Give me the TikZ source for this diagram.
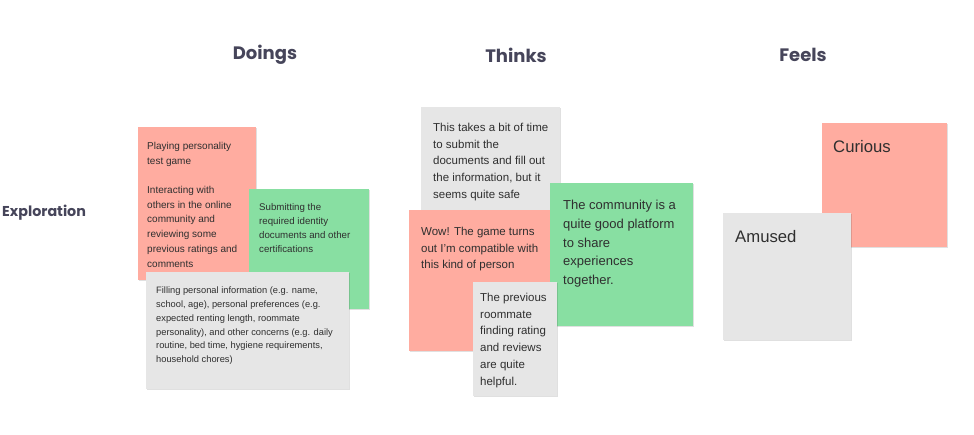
\documentclass[tikz,border=0pt]{standalone}
\usepackage{fontspec}
\setmainfont{Liberation Sans}
\newfontfamily\headfont{Poppins}
\usetikzlibrary{shadows}
\definecolor{stpink}{HTML}{FFACA0}
\definecolor{stgreen}{HTML}{88DFA2}
\definecolor{stgray}{HTML}{E6E6E6}
\definecolor{sttext}{HTML}{2F2F2F}
\definecolor{headcol}{HTML}{46455A}
\newcommand{\fs}[2]{\fontsize{#1pt}{#2pt}\selectfont}
\tikzset{
  sticky/.style={rectangle, draw=none, inner sep=0pt, anchor=north west,
    drop shadow={opacity=0.12, shadow xshift=0.6pt, shadow yshift=-1.2pt, fill=black}},
  stickytext/.style={anchor=north west, inner sep=0pt, align=left, text=sttext},
  head/.style={font=\headfont\bfseries\fontsize{18pt}{20pt}\selectfont, text=headcol, inner sep=0pt},
}
\begin{document}
\begin{tikzpicture}[x=1pt,y=-1pt]
\useasboundingbox[fill=white] (0,0) rectangle (974,435);
% headings
\node[head] (hdo) at (265,55) {Doings};
\node[head] (hth) at (516,55) {Thinks};
\node[head] (hfe) at (803,55) {Feels};
\node[head, font=\headfont\bfseries\fontsize{14.3pt}{16pt}\selectfont, anchor=west] (hex) at (2,213) {Exploration};
% Doings
\node[sticky, fill=stpink, minimum width=118pt, minimum height=153pt] (p1) at (138,127) {};
\node[stickytext, font=\fs{10}{14.7}] (p1t) at ([shift={(9,15)}]p1.north west) {Playing personality\\test game\\[14.7pt]Interacting with\\others in the online\\community and\\reviewing some\\previous ratings and\\comments};
\node[sticky, fill=stgreen, minimum width=120pt, minimum height=120pt] (g1) at (249,189) {};
\node[stickytext, font=\fs{9.7}{14}] (g1t) at ([shift={(10,14)}]g1.north west) {Submitting the\\required identity\\documents and other\\certifications};
\node[sticky, fill=stgray, minimum width=203pt, minimum height=117pt] (y1) at (146,272) {};
\node[stickytext, font=\fs{9.3}{13.7}] (y1t) at ([shift={(10,15)}]y1.north west) {Filling personal information (e.g. name,\\school, age), personal preferences (e.g.\\expected renting length, roommate\\personality), and other concerns (e.g. daily\\routine, bed time, hygiene requirements,\\household chores)};
% Thinks
\node[sticky, fill=stgray, minimum width=139pt, minimum height=110pt] (y2) at (421,107) {};
\node[stickytext, font=\fs{11.5}{16.7}] (y2t) at ([shift={(12,16)}]y2.north west) {This takes a bit of time\\to submit the\\documents and fill out\\the information, but it\\seems quite safe};
\node[sticky, fill=stpink, minimum width=143pt, minimum height=141pt] (p2) at (409,210) {};
\node[stickytext, font=\fs{11.5}{16.7}] (p2t) at ([shift={(12,17)}]p2.north west) {Wow! The game turns\\out I'm compatible with\\this kind of person};
\node[sticky, fill=stgreen, minimum width=143pt, minimum height=143pt] (g2) at (550,183) {};
\node[stickytext, font=\fs{13}{18.7}] (g2t) at ([shift={(13,17)}]g2.north west) {The community is a\\quite good platform\\to share\\experiences\\together.};
\node[sticky, fill=stgray, minimum width=84pt, minimum height=114pt] (y3) at (473,282) {};
\node[stickytext, font=\fs{11.5}{16.7}] (y3t) at ([shift={(7,11)}]y3.north west) {The previous\\roommate\\finding rating\\and reviews\\are quite\\helpful.};
% Feels
\node[sticky, fill=stpink, minimum width=125pt, minimum height=124pt] (p3) at (822,123) {};
\node[stickytext, font=\fs{16.7}{20}] (p3t) at ([shift={(11,17)}]p3.north west) {Curious};
\node[sticky, fill=stgray, minimum width=128pt, minimum height=127pt] (y4) at (723,213) {};
\node[stickytext, font=\fs{16.7}{20}] (y4t) at ([shift={(12,17)}]y4.north west) {Amused};
\end{tikzpicture}
\end{document}
